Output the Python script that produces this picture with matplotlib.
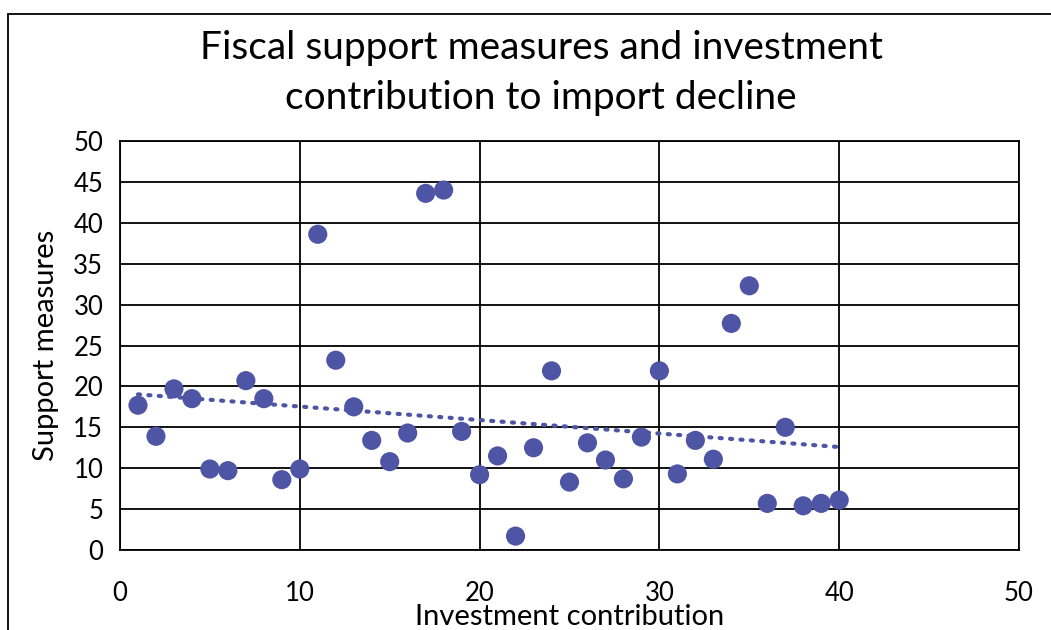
import numpy as np
import matplotlib
matplotlib.use("Agg")
import matplotlib.pyplot as plt
from matplotlib.patches import Rectangle

plt.rcParams['font.family'] = ['Lato', 'DejaVu Sans']

# Investment contribution (x) and support measures (y) per observation
investment = list(range(1, 41))
support = [17.7, 13.9, 19.7, 18.5, 9.9, 9.7, 20.7, 18.5, 8.6, 9.9,
           38.6, 23.2, 17.5, 13.4, 10.8, 14.3, 43.6, 44.0, 14.5, 9.2,
           11.5, 1.7, 12.5, 21.9, 8.3, 13.1, 11.0, 8.7, 13.8, 21.9,
           9.3, 13.4, 11.1, 27.7, 32.3, 5.7, 15.0, 5.4, 5.7, 6.1]

ticks = [0, 10, 20, 30, 40, 50]
yticks = [0, 5, 10, 15, 20, 25, 30, 35, 40, 45, 50]

marker_color = '#4F55A5'

fig = plt.figure(figsize=(10.51, 6.30), dpi=100)
ax = fig.add_axes([120/1051, 1 - 550/630, (1019-120)/1051, (550-141)/630])

ax.scatter(investment, support, s=190, color=marker_color, zorder=3,
           edgecolors='none')

# Linear trend line
x = np.array(investment, dtype=float)
y = np.array(support, dtype=float)
slope, intercept = np.polyfit(x, y, 1)
xs = np.array([x.min(), x.max()])
ax.plot(xs, slope * xs + intercept, color=marker_color, linewidth=3,
        linestyle=(0, (0.5, 2.0)), dash_capstyle='round', zorder=4)

ax.set_xlim(0, 50)
ax.set_ylim(0, 50)
ax.set_xticks(ticks)
ax.set_yticks(yticks)
ax.grid(True, color='black', linewidth=1.3, zorder=0)
ax.set_axisbelow(True)
for side in ax.spines.values():
    side.set_color('black')
    side.set_linewidth(1.3)
ax.tick_params(length=0, labelsize=18.5, pad=12)
ax.tick_params(axis='x', pad=22)

ax.set_xlabel('Investment contribution', fontsize=21, labelpad=-1)
ax.set_ylabel('Support measures', fontsize=21, labelpad=10)

fig.text(0.515, 1 - 73/630, 'Fiscal support measures and investment\ncontribution to import decline',
         ha='center', va='center', fontsize=28, linespacing=1.45)

# Chart area frame
fig.patches.append(Rectangle((8/1051, -0.2), 1.2, 1.2 - 14/630,
                             transform=fig.transFigure, fill=False,
                             edgecolor='black', linewidth=1.3, zorder=0))

fig.savefig('out.png', dpi=100)
